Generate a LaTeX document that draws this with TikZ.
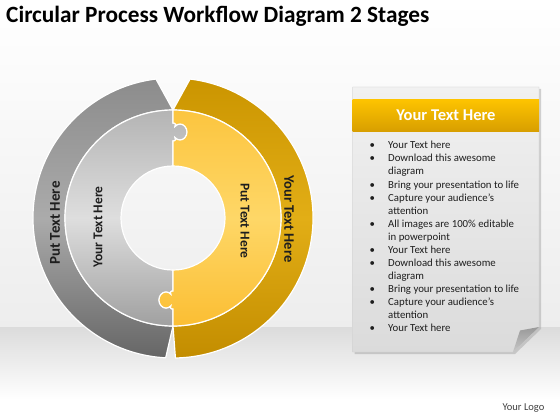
\documentclass[tikz,border=0pt]{standalone}
\usepackage{fontspec}
\setmainfont{Carlito}
\usetikzlibrary{calc}

\definecolor{grayoutA}{HTML}{8C8C8C}
\definecolor{grayoutM}{HTML}{ABABAB}
\definecolor{grayoutB}{HTML}{666666}
\definecolor{graymidA}{HTML}{B4B4B4}
\definecolor{graymidM}{HTML}{DEDEDE}
\definecolor{graymidB}{HTML}{A0A0A0}
\definecolor{goldoutA}{HTML}{CB9500}
\definecolor{goldoutM}{HTML}{E2AE16}
\definecolor{goldoutB}{HTML}{C38D00}
\definecolor{goldmidA}{HTML}{FCC53F}
\definecolor{goldmidM}{HTML}{FED767}
\definecolor{goldmidB}{HTML}{FBBE33}
\definecolor{sheetA}{HTML}{F1F1F1}
\definecolor{sheetB}{HTML}{DBDBDB}
\definecolor{headA}{HTML}{FDC300}
\definecolor{headB}{HTML}{D89F00}
\definecolor{textdark}{HTML}{1E1E1E}

\begin{document}
\begin{tikzpicture}[x=1pt,y=-1pt,inner sep=0pt,
  seamR/.style={insert path={-- (0,#1+9) .. controls (3,#1+9) and (3,#1+7) .. (2.05,#1+5.66)
      arc[start angle=135,end angle=-135,x radius=7,y radius=8] .. controls (3,#1-7) and (3,#1-9) .. (0,#1-9)}},
  seamL/.style={insert path={-- (0,#1+9) .. controls (-3,#1+9) and (-3,#1+7) .. (-2.05,#1+5.66)
      arc[start angle=45,end angle=315,x radius=7,y radius=8] .. controls (-3,#1-7) and (-3,#1-9) .. (0,#1-9)}},
  piece/.style={draw=white,line width=1.2pt},
  ringtext/.style={text=textdark,font=\bfseries\fontsize{#1}{#1}\selectfont}]
\useasboundingbox (0,0) rectangle (560,420);
\fill[top color=white,bottom color=black!7] (0,0) rectangle (560,327);
\fill[top color=black!14,bottom color=white] (0,327) rectangle (560,400);
\fill[white] (0,400) rectangle (560,420);

\node[anchor=base west,font=\bfseries\fontsize{23.3}{28}\selectfont] (title) at (6,22.7) {Circular Process Workflow Diagram 2 Stages};

\begin{scope}[shift={(173,218)}]
\path[piece,top color=grayoutA,bottom color=grayoutB,middle color=grayoutM]
  (263:140) arc[start angle=263,end angle=93,radius=140] -- (90:108) arc[start angle=90,end angle=270,radius=108] -- cycle;
\path[piece,top color=goldoutA,bottom color=goldoutB,middle color=goldoutM]
  (-83:140) arc[start angle=-83,end angle=89,radius=140] -- (90:108) arc[start angle=90,end angle=-90,radius=108] -- cycle;
\path[piece,top color=graymidA,bottom color=graymidB,middle color=graymidM]
  (0,-108) arc[start angle=270,end angle=90,radius=108] [seamL=82] -- (0,52)
  arc[start angle=90,end angle=270,radius=52] [seamR=-86] -- cycle;
\path[piece,top color=goldmidA,bottom color=goldmidB,middle color=goldmidM]
  (0,-108) arc[start angle=-90,end angle=90,radius=108] [seamL=82] -- (0,52)
  arc[start angle=90,end angle=-90,radius=52] [seamR=-86] -- cycle;
\end{scope}

\node[ringtext=15,rotate=90] (grayout) at (55,223) {Put Text Here};
\node[ringtext=13.5,rotate=90] (graymid) at (98,227) {Your Text Here};
\node[ringtext=13.5,rotate=-90] (goldmid) at (245,221) {Put Text Here};
\node[ringtext=14.5,rotate=-90] (goldout) at (289,219) {Your Text Here};

% note sheet
\fill[black!35,opacity=.5] (354.7,89) -- (541,89) -- (541,329) -- (515,354) -- (354.7,354) -- cycle;
\path[draw=black!20,top color=sheetA,bottom color=sheetB] (352.7,87) -- (539,87) -- (539,327) -- (513,352) -- (352.7,352) -- cycle;
\path[top color=black!40,bottom color=black!22] (539,327) -- (520,330.5) -- (513,352) -- cycle;
\path[top color=headA,bottom color=headB] (352.7,100) rectangle (539,131);
\node[text=white,font=\bfseries\fontsize{16.5}{16.5}\selectfont] (head) at (446,115.5) {Your Text Here};
\node[anchor=base west,font=\fontsize{10.8}{13.07}\selectfont,text=textdark] (list) at (369.3,148.8)
  {\begin{tabular}[t]{@{}p{18.7pt}@{}l@{}}
  • & Your Text here\\
  • & Download this awesome\\
    & diagram\\
  • & Bring your presentation to life\\
  • & Capture your audience’s\\
    & attention\\
  • & All images are 100\% editable\\
    & in powerpoint\\
  • & Your Text here\\
  • & Download this awesome\\
    & diagram\\
  • & Bring your presentation to life\\
  • & Capture your audience’s\\
    & attention\\
  • & Your Text here
  \end{tabular}};

\node[font=\fontsize{10.5}{12}\selectfont,text=black!75] (logo) at (523.5,408) {Your Logo};
\end{tikzpicture}
\end{document}
